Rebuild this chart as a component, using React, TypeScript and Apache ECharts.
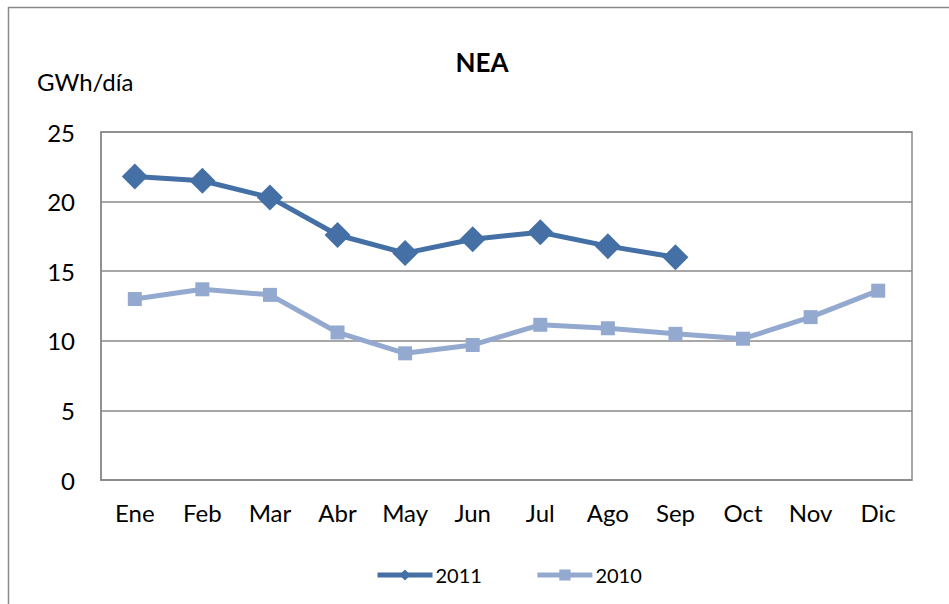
import React, { useEffect, useRef } from "react";
import * as echarts from "echarts";

const months = ["Ene", "Feb", "Mar", "Abr", "May", "Jun", "Jul", "Ago", "Sep", "Oct", "Nov", "Dic"];
const values2011 = [21.8, 21.5, 20.3, 17.6, 16.3, 17.3, 17.8, 16.8, 16.0];
const values2010 = [13.0, 13.7, 13.3, 10.6, 9.1, 9.7, 11.15, 10.9, 10.5, 10.15, 11.7, 13.6];
const yTicks = { min: 0, max: 25, interval: 5 };

const FONT = "Lato, 'Open Sans', sans-serif";
const C2011 = "#4470A6";
const C2010 = "#93A9D0";

export default function App() {
  const ref = useRef<HTMLDivElement>(null);
  useEffect(() => {
    if (!ref.current) return;
    const chart = echarts.init(ref.current, undefined, { renderer: "svg" });
    chart.setOption({
      animation: false,
      backgroundColor: "#ffffff",
      title: {
        text: "NEA",
        left: 482,
        top: 49,
        textAlign: "center",
        padding: 0,
        textStyle: { fontFamily: FONT, fontSize: 26, fontWeight: "bold", color: "#000" },
      },
      graphic: [
        {
          type: "rect",
          shape: { x: 8.5, y: 7.5, width: 1000, height: 700 },
          style: { fill: "none", stroke: "#8a8a8a", lineWidth: 1.5 },
          silent: true,
        },
        {
          type: "text",
          left: 37,
          top: 69,
          style: { text: "GWh/día", fontFamily: FONT, fontSize: 24, fill: "#000" },
        },
      ],
      legend: {
        top: 565,
        left: 375,
        padding: 0,
        itemWidth: 55,
        itemHeight: 14,
        itemGap: 53,
        textStyle: { fontFamily: FONT, fontSize: 20, color: "#000", padding: [0, 0, 0, -2] },
        data: [
          { name: "2011", lineStyle: { width: 5, color: C2011 } },
          { name: "2010", lineStyle: { width: 5, color: C2010 } },
        ],
      },
      grid: {
        left: 101,
        right: 37,
        top: 132,
        bottom: 124,
        show: true,
        borderColor: "#8a8a8a",
        borderWidth: 1.5,
      },
      xAxis: {
        type: "category",
        data: months,
        boundaryGap: true,
        axisLine: { lineStyle: { color: "#8a8a8a", width: 1.5 } },
        axisTick: { show: false },
        axisLabel: { fontFamily: FONT, fontSize: 24, color: "#000", margin: 20 },
      },
      yAxis: {
        type: "value",
        min: yTicks.min,
        max: yTicks.max,
        interval: yTicks.interval,
        axisLine: { show: true, lineStyle: { color: "#8a8a8a", width: 1.5 } },
        axisTick: { show: false },
        splitLine: { lineStyle: { color: "#8a8a8a", width: 1.5 } },
        axisLabel: { fontFamily: FONT, fontSize: 24, color: "#000", margin: 26 },
      },
      series: [
        {
          name: "2011",
          type: "line",
          data: values2011,
          symbol: "diamond",
          symbolSize: [26, 26],
          lineStyle: { color: C2011, width: 5 },
          itemStyle: { color: C2011 },
          z: 3,
        },
        {
          name: "2010",
          type: "line",
          data: values2010,
          symbol: "rect",
          symbolSize: 14,
          lineStyle: { color: C2010, width: 5 },
          itemStyle: { color: C2010 },
          z: 2,
        },
      ],
    });
    return () => chart.dispose();
  }, []);
  return (
    <div
      ref={ref}
      style={{ position: "fixed", left: 0, top: 0, width: 949, height: 604 }}
    />
  );
}
